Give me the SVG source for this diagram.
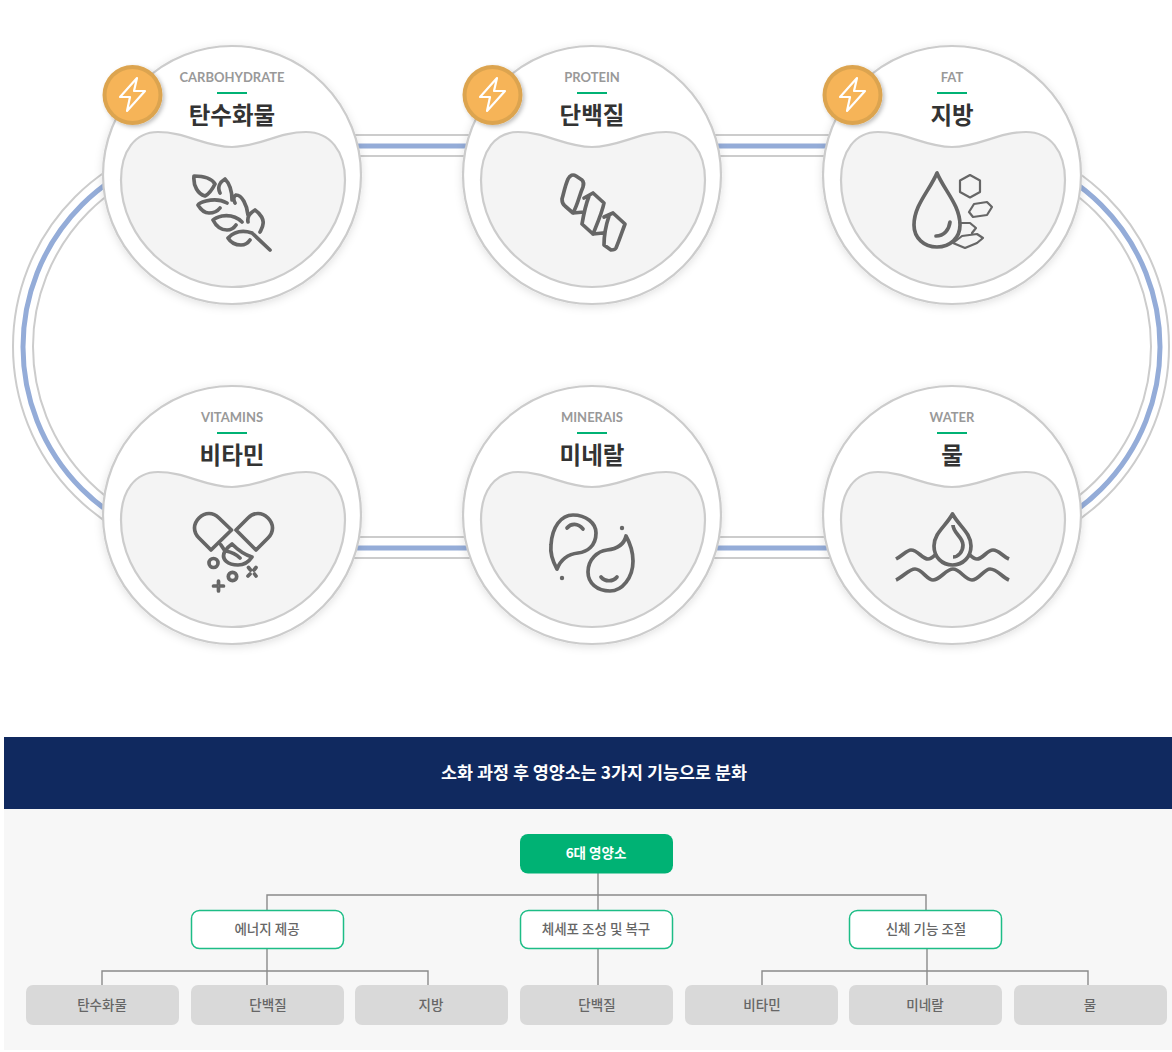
<svg xmlns="http://www.w3.org/2000/svg" width="1172" height="1052" viewBox="0 0 1172 1052">
<style>
.kr{font-family:"Noto Sans CJK KR","Noto Sans",sans-serif}
.en{font-family:Lato,"Liberation Sans",sans-serif;font-size:13px;fill:#999;text-anchor:middle;font-weight:700}
.ti{font-size:23.500px;font-weight:700;fill:#333;text-anchor:middle}
.ring{fill:#fff;stroke:#ccc;stroke-width:2.200;filter:url(#sh)}
.blob{fill:#f4f4f4;stroke:#ccc;stroke-width:2.200}
.bar{fill:#00b274}
.ic{fill:none;stroke:#666;stroke-width:3.700;stroke-linecap:round;stroke-linejoin:round}
.thin{stroke-width:2.200}
.g1{fill:#00b274}
.g2{fill:#fff;stroke:#1dbd86;stroke-width:1.500}
.g3{fill:#d9d9d9}
.t1{font-size:13.500px;font-weight:700;fill:#fff;text-anchor:middle}
.t2{font-size:13.500px;font-weight:500;fill:#666;text-anchor:middle}
.lines{fill:none;stroke:#8a8a8a;stroke-width:1.400}
.trk{fill:none;stroke:#ccc;stroke-width:2}
</style>
<defs>
<filter id="sh" x="-10%" y="-10%" width="120%" height="120%"><feDropShadow dx="0" dy="2" stdDeviation="4" flood-color="#000" flood-opacity=".12"/></filter>
<filter id="bsh" x="-20%" y="-20%" width="140%" height="140%"><feDropShadow dx="2" dy="2" stdDeviation="2" flood-color="#000" flood-opacity=".25"/></filter>
<g id="base">
<circle class="ring" cx="232" cy="175" r="129"/>
<path class="blob" d="M232,147C205,147 186,132 158,132C135,132 121,151 121,180C121,240 175,287 232,287C289,287 345,240 345,180C345,151 330,132 306,132C278,132 259,147 232,147Z"/>
<rect class="bar" x="217" y="92" width="30" height="2"/>
</g>
<g id="badge">
<circle cx="132.500" cy="95" r="30" fill="#dca44f" filter="url(#bsh)"/>
<circle cx="132.500" cy="95" r="26" fill="#f6b458"/>
<path d="M137,78L120,97H130L127,111L145,91H134Z" fill="none" stroke="#fff" stroke-width="2.200" stroke-linejoin="round"/>
</g>
</defs>
<rect width="1172" height="1052" fill="#fff"/>
<rect x="4" y="737" width="1168" height="72" fill="#10295f"/>
<rect x="4" y="809" width="1168" height="241" fill="#f7f7f7"/>
<text class="kr" x="594" y="779" font-size="17.400" font-weight="700" fill="#fff" text-anchor="middle">소화 과정 후 영양소는 3가지 기능으로 분화</text>
<g id="connectors">
<rect class="trk" x="13" y="135" width="1156" height="423" rx="211.500"/>
<rect class="trk" x="33" y="156" width="1118" height="381" rx="190.500"/>
<rect x="23" y="146" width="1137" height="402" rx="201" fill="none" stroke="#94acd8" stroke-width="5"/>
<path class="lines" d="M598,873V910M267,910V895H926V910M598,949V985M102,985V971H428V985M267,949V985M762,985V971H1088V985M927,949V985"/>
</g>
<g id="carbohydrate">
<use href="#base"/>
<text class="en" x="232" y="82">CARBOHYDRATE</text><text class="kr ti" x="232" y="123.500">탄수화물</text>
<path class="ic" d="M270,250L252,233M194,176C204,176 212,179 215,184C212,190 209,194 205,196C198,194 193,186 194,176ZM220,193C217,187 220,182 225,179C230,184 232,192 232,200M235,203C233,199 234,196 236,195C242,195 247,205 248,215M248,222C247,217 250,213 255,210C261,214 264,220 263,224C263,227 261,230 260,232M227,203C220,199 214,199 206,201C202,202 199,203 198,205C201,210 205,213 209,213C213,213 217,212 220,208M242,222C236,216 229,215 222,216C218,217 215,218 213,220C216,226 221,230 227,230C231,230 234,228 236,225M252,233C246,231 240,231 235,233C232,234 230,236 228,238C231,243 236,245 241,245C245,245 248,243 250,240"/>
</g>
<use href="#badge"/>
<g id="protein" transform="translate(360 0)">
<use href="#base"/>
<text class="en" x="232" y="82">PROTEIN</text><text class="kr ti" x="232" y="123.500">단백질</text>
<g transform="translate(-360 0)"><path class="ic" d="M568,179C570,175 573,174 576,176L582,180C584,182 584,184 583,187C579,196 578,204 573,213L565,206C562,204 562,202 562,199C564,192 565,186 568,179ZM573,213L584,212M584,198L593,193L604,203C602,213 597,224 593,234L582,224C584,212 586,204 589,196M593,234L603,233M604,217L613,213L625,224C622,232 619,241 616,248C615,250 613,250 611,250L604,245C604,235 606,225 609,216"/></g>
</g>
<use href="#badge" transform="translate(360 0)"/>
<g id="fat" transform="translate(720 0)">
<use href="#base"/>
<text class="en" x="232" y="82">FAT</text><text class="kr ti" x="232" y="123.500">지방</text>
<g transform="translate(-720 0)"><path class="ic" d="M937,173C930,190 914,205 914,225C914,238 924,247 937,247C950,247 960,238 960,225C960,205 944,190 937,173ZM950,222C949,230 944,236 936,236"/><path class="ic thin" d="M970,175L980,180.500V192L970,197.500L960,192V180.500ZM969,212L974,204L987,202L992,207L987,215L973,217ZM961,223L970,223L976,228L972,233M953,243L962,236L977,234L983,238L977,243L965,248Z"/></g>
</g>
<use href="#badge" transform="translate(720 0)"/>
<g id="vitamins" transform="translate(0 340)">
<use href="#base"/>
<text class="en" x="232" y="82">VITAMINS</text><text class="kr ti" x="232" y="123.500">비타민</text>
<g transform="translate(0 -340)"><path class="ic" d="M231.500,530L211,550L199,538C193,532 193,524 199,518C205,512 213,512 219,518ZM236,530L256,550L268,538C274,532 274,524 268,518C262,512 254,512 248,518ZM221,545L225,551M232,544C240,552 245,555 252,557C248,563 243,565 238,565C229,565 220,560 225,551C227,548 229,546 232,544ZM226,551C231,552 236,554 240,558"/><circle class="ic" cx="213.500" cy="563" r="4.500"/><circle class="ic" cx="232.500" cy="576.500" r="4.200"/><path class="ic" d="M248.500,567.500L250.500,570M254.500,574L256,576M256,567.500L254,570M250,574L248,576M218.500,581V584M218.500,588V591M213.500,586H216.500M220.500,586H223.500"/></g>
</g>
<g id="minerais" transform="translate(360 340)">
<use href="#base"/>
<text class="en" x="232" y="82">MINERAIS</text><text class="kr ti" x="232" y="123.500">미네랄</text>
<g transform="translate(-360 -340)"><path class="ic" d="M557,569C552,560 550,553 551,545C552,527 561,515 573,515C586,515 596,523 596,533C596,546 587,552 578,553C569,554 561,559 557,569ZM567,528C571,523 578,523 583,529M626,536C631,545 633,552 633,561C633,578 622,591 610,591C597,591 588,583 588,572C588,559 598,551 607,550C616,549 624,545 626,536ZM601,577C605,582 613,582 617,577"/><circle cx="562" cy="578" r="2.200" fill="#666"/><circle cx="622" cy="528" r="2.200" fill="#666"/></g>
</g>
<g id="water" transform="translate(720 340)">
<use href="#base"/>
<text class="en" x="232" y="82">WATER</text><text class="kr ti" x="232" y="123.500">물</text>
<g transform="translate(-720 -340)"><path class="ic" style="stroke-linecap:butt" d="M952.500,514C946,526 934,533 934,546C934,557 942,565 952.500,565C963,565 971,557 971,546C971,533 959,526 952.500,514ZM953,525C953,533 963,537 963,545C963,552 958,557 953,557M896,559C903,555 907,550 911,550C918,550 922,559 928,559C931,559 933,557 935,555M970,555C972,557 974,559 977,559C983,559 987,550 993,550C999,550 1002,556 1009,559M896,580C903,577 909,569 915,569C922,569 927,580 933,580C940,580 946,569 953,569C960,569 965,580 972,580C979,580 984,569 990,569C997,569 1002,577 1009,580"/></g>
</g>
<g id="root"><rect class="g1" x="520" y="834" width="153" height="39.500" rx="8"/><text class="kr t1" x="596" y="858">6대 영양소</text></g>
<g id="energy"><rect class="g2" x="191.500" y="910.500" width="152" height="38" rx="8"/><text class="kr t2" x="267" y="934">에너지 제공</text></g>
<g id="cell"><rect class="g2" x="520.500" y="910.500" width="152" height="38" rx="8"/><text class="kr t2" x="596" y="934">체세포 조성 및 복구</text></g>
<g id="body"><rect class="g2" x="849.500" y="910.500" width="152" height="38" rx="8"/><text class="kr t2" x="926" y="934">신체 기능 조절</text></g>
<g id="l1"><rect class="g3" x="26" y="985" width="153" height="40" rx="7"/><text class="kr t2" x="102" y="1010">탄수화물</text></g>
<g id="l2"><rect class="g3" x="191" y="985" width="153" height="40" rx="7"/><text class="kr t2" x="268" y="1010">단백질</text></g>
<g id="l3"><rect class="g3" x="355" y="985" width="153" height="40" rx="7"/><text class="kr t2" x="431" y="1010">지방</text></g>
<g id="l4"><rect class="g3" x="520" y="985" width="153" height="40" rx="7"/><text class="kr t2" x="597" y="1010">단백질</text></g>
<g id="l5"><rect class="g3" x="685" y="985" width="153" height="40" rx="7"/><text class="kr t2" x="762" y="1010">비타민</text></g>
<g id="l6"><rect class="g3" x="849" y="985" width="153" height="40" rx="7"/><text class="kr t2" x="925" y="1010">미네랄</text></g>
<g id="l7"><rect class="g3" x="1014" y="985" width="153" height="40" rx="7"/><text class="kr t2" x="1090" y="1010">물</text></g>
</svg>
